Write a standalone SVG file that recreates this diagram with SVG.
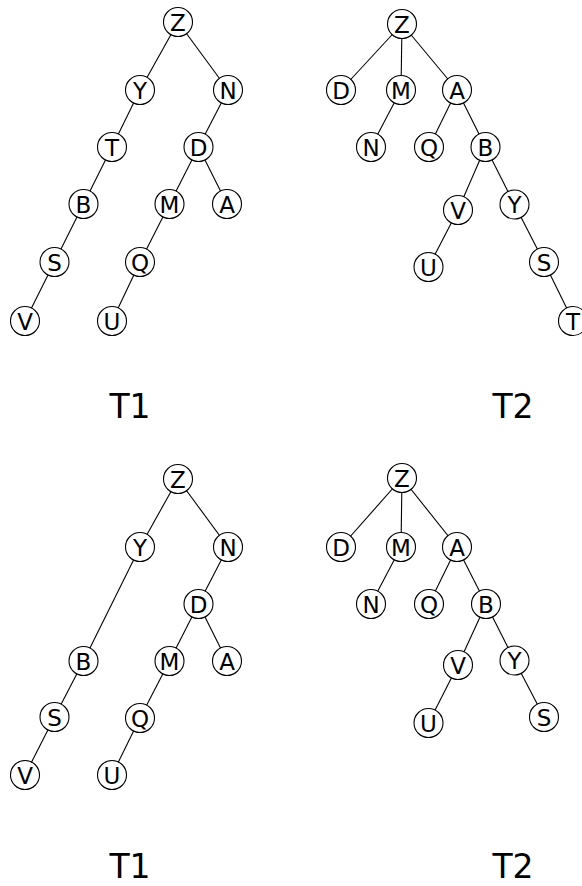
<svg xmlns="http://www.w3.org/2000/svg" width="582" height="886" viewBox="0 0 582 886">
<style>
.e line{stroke:#000;stroke-width:1.1}
.n circle{fill:#fff;stroke:#000;stroke-width:1.1}
.n text{font-family:"DejaVu Sans",sans-serif;font-size:23px;text-anchor:middle;fill:#000}
.lbl{font-family:"DejaVu Sans",sans-serif;font-size:33px;text-anchor:middle;fill:#000}
</style>
<rect width="582" height="886" fill="#fff"/>
<g id="connectors" class="e">
<line x1="178" y1="22" x2="140" y2="90"/>
<line x1="178" y1="22" x2="228" y2="90"/>
<line x1="140" y1="90" x2="112" y2="147"/>
<line x1="112" y1="147" x2="83.5" y2="204"/>
<line x1="83.5" y1="204" x2="54.5" y2="262"/>
<line x1="54.5" y1="262" x2="25" y2="321"/>
<line x1="228" y1="90" x2="198.5" y2="147"/>
<line x1="198.5" y1="147" x2="169.5" y2="204"/>
<line x1="198.5" y1="147" x2="227" y2="204"/>
<line x1="169.5" y1="204" x2="140" y2="262"/>
<line x1="140" y1="262" x2="112" y2="321"/>
<line x1="402" y1="24" x2="341" y2="90"/>
<line x1="402" y1="24" x2="401" y2="90"/>
<line x1="402" y1="24" x2="457" y2="90"/>
<line x1="401" y1="90" x2="371" y2="147"/>
<line x1="457" y1="90" x2="429" y2="147"/>
<line x1="457" y1="90" x2="485.5" y2="147"/>
<line x1="485.5" y1="147" x2="458" y2="210"/>
<line x1="485.5" y1="147" x2="514.5" y2="204.5"/>
<line x1="458" y1="210" x2="428.5" y2="267"/>
<line x1="514.5" y1="204.5" x2="544" y2="262"/>
<line x1="544" y1="262" x2="573" y2="321"/>
<line x1="178" y1="479" x2="140" y2="547"/>
<line x1="178" y1="479" x2="228" y2="547"/>
<line x1="140" y1="547" x2="83.5" y2="661"/>
<line x1="83.5" y1="661" x2="54.5" y2="717"/>
<line x1="54.5" y1="717" x2="25" y2="775"/>
<line x1="228" y1="547" x2="198.5" y2="604"/>
<line x1="198.5" y1="604" x2="169.5" y2="661"/>
<line x1="198.5" y1="604" x2="227" y2="661"/>
<line x1="169.5" y1="661" x2="140" y2="718"/>
<line x1="140" y1="718" x2="112" y2="775"/>
<line x1="402" y1="478" x2="341" y2="547"/>
<line x1="402" y1="478" x2="401" y2="547"/>
<line x1="402" y1="478" x2="457" y2="547"/>
<line x1="401" y1="547" x2="371" y2="604"/>
<line x1="457" y1="547" x2="429" y2="604"/>
<line x1="457" y1="547" x2="486" y2="604"/>
<line x1="486" y1="604" x2="458" y2="665"/>
<line x1="486" y1="604" x2="514.5" y2="660.5"/>
<line x1="458" y1="665" x2="428.5" y2="723"/>
<line x1="514.5" y1="660.5" x2="544" y2="717"/>
</g>
<g id="t1a-Z" class="n"><circle cx="178" cy="22" r="14.5"/><text x="178" y="30.5">Z</text></g>
<g id="t1a-Y" class="n"><circle cx="140" cy="90" r="14.5"/><text x="140" y="98.5">Y</text></g>
<g id="t1a-N" class="n"><circle cx="228" cy="90" r="14.5"/><text x="228" y="98.5">N</text></g>
<g id="t1a-T" class="n"><circle cx="112" cy="147" r="14.5"/><text x="112" y="155.5">T</text></g>
<g id="t1a-D" class="n"><circle cx="198.5" cy="147" r="14.5"/><text x="198.5" y="155.5">D</text></g>
<g id="t1a-B" class="n"><circle cx="83.5" cy="204" r="14.5"/><text x="83.5" y="212.5">B</text></g>
<g id="t1a-M" class="n"><circle cx="169.5" cy="204" r="14.5"/><text x="169.5" y="212.5">M</text></g>
<g id="t1a-A" class="n"><circle cx="227" cy="204" r="14.5"/><text x="227" y="212.5">A</text></g>
<g id="t1a-S" class="n"><circle cx="54.5" cy="262" r="14.5"/><text x="54.5" y="270.5">S</text></g>
<g id="t1a-Q" class="n"><circle cx="140" cy="262" r="14.5"/><text x="140" y="270.5">Q</text></g>
<g id="t1a-V" class="n"><circle cx="25" cy="321" r="14.5"/><text x="25" y="329.5">V</text></g>
<g id="t1a-U" class="n"><circle cx="112" cy="321" r="14.5"/><text x="112" y="329.5">U</text></g>
<g id="t2a-Z" class="n"><circle cx="402" cy="24" r="14.5"/><text x="402" y="32.5">Z</text></g>
<g id="t2a-D" class="n"><circle cx="341" cy="90" r="14.5"/><text x="341" y="98.5">D</text></g>
<g id="t2a-M" class="n"><circle cx="401" cy="90" r="14.5"/><text x="401" y="98.5">M</text></g>
<g id="t2a-A" class="n"><circle cx="457" cy="90" r="14.5"/><text x="457" y="98.5">A</text></g>
<g id="t2a-N" class="n"><circle cx="371" cy="147" r="14.5"/><text x="371" y="155.5">N</text></g>
<g id="t2a-Q" class="n"><circle cx="429" cy="147" r="14.5"/><text x="429" y="155.5">Q</text></g>
<g id="t2a-B" class="n"><circle cx="485.5" cy="147" r="14.5"/><text x="485.5" y="155.5">B</text></g>
<g id="t2a-V" class="n"><circle cx="458" cy="210" r="14.5"/><text x="458" y="218.5">V</text></g>
<g id="t2a-Y" class="n"><circle cx="514.5" cy="204.5" r="14.5"/><text x="514.5" y="213">Y</text></g>
<g id="t2a-U" class="n"><circle cx="428.5" cy="267" r="14.5"/><text x="428.5" y="275.5">U</text></g>
<g id="t2a-S" class="n"><circle cx="544" cy="262" r="14.5"/><text x="544" y="270.5">S</text></g>
<g id="t2a-T" class="n"><circle cx="573" cy="321" r="14.5"/><text x="573" y="329.5">T</text></g>
<g id="t1b-Z" class="n"><circle cx="178" cy="479" r="14.5"/><text x="178" y="487.5">Z</text></g>
<g id="t1b-Y" class="n"><circle cx="140" cy="547" r="14.5"/><text x="140" y="555.5">Y</text></g>
<g id="t1b-N" class="n"><circle cx="228" cy="547" r="14.5"/><text x="228" y="555.5">N</text></g>
<g id="t1b-D" class="n"><circle cx="198.5" cy="604" r="14.5"/><text x="198.5" y="612.5">D</text></g>
<g id="t1b-B" class="n"><circle cx="83.5" cy="661" r="14.5"/><text x="83.5" y="669.5">B</text></g>
<g id="t1b-M" class="n"><circle cx="169.5" cy="661" r="14.5"/><text x="169.5" y="669.5">M</text></g>
<g id="t1b-A" class="n"><circle cx="227" cy="661" r="14.5"/><text x="227" y="669.5">A</text></g>
<g id="t1b-S" class="n"><circle cx="54.5" cy="717" r="14.5"/><text x="54.5" y="725.5">S</text></g>
<g id="t1b-Q" class="n"><circle cx="140" cy="718" r="14.5"/><text x="140" y="726.5">Q</text></g>
<g id="t1b-V" class="n"><circle cx="25" cy="775" r="14.5"/><text x="25" y="783.5">V</text></g>
<g id="t1b-U" class="n"><circle cx="112" cy="775" r="14.5"/><text x="112" y="783.5">U</text></g>
<g id="t2b-Z" class="n"><circle cx="402" cy="478" r="14.5"/><text x="402" y="486.5">Z</text></g>
<g id="t2b-D" class="n"><circle cx="341" cy="547" r="14.5"/><text x="341" y="555.5">D</text></g>
<g id="t2b-M" class="n"><circle cx="401" cy="547" r="14.5"/><text x="401" y="555.5">M</text></g>
<g id="t2b-A" class="n"><circle cx="457" cy="547" r="14.5"/><text x="457" y="555.5">A</text></g>
<g id="t2b-N" class="n"><circle cx="371" cy="604" r="14.5"/><text x="371" y="612.5">N</text></g>
<g id="t2b-Q" class="n"><circle cx="429" cy="604" r="14.5"/><text x="429" y="612.5">Q</text></g>
<g id="t2b-B" class="n"><circle cx="486" cy="604" r="14.5"/><text x="486" y="612.5">B</text></g>
<g id="t2b-V" class="n"><circle cx="458" cy="665" r="14.5"/><text x="458" y="673.5">V</text></g>
<g id="t2b-Y" class="n"><circle cx="514.5" cy="660.5" r="14.5"/><text x="514.5" y="669">Y</text></g>
<g id="t2b-U" class="n"><circle cx="428.5" cy="723" r="14.5"/><text x="428.5" y="731.5">U</text></g>
<g id="t2b-S" class="n"><circle cx="544" cy="717" r="14.5"/><text x="544" y="725.5">S</text></g>
<text id="lbl-t1a" class="lbl" x="130" y="418">T1</text>
<text id="lbl-t2a" class="lbl" x="513" y="418">T2</text>
<text id="lbl-t1b" class="lbl" x="130" y="878">T1</text>
<text id="lbl-t2b" class="lbl" x="513" y="878">T2</text>
</svg>
